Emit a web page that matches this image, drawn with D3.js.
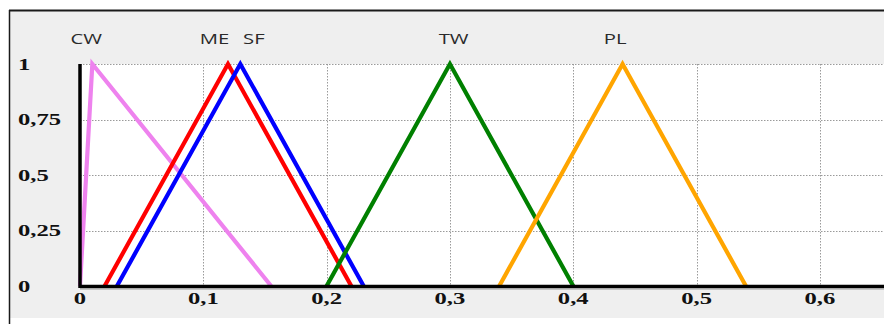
<!DOCTYPE html>
<html>
<head>
<meta charset="utf-8">
<script src="https://cdn.jsdelivr.net/npm/d3@7"></script>
<style>
  html, body { margin: 0; padding: 0; background: #ffffff; }
  svg { display: block; }
</style>
</head>
<body>
<svg id="chart" width="884" height="324"></svg>
<script>
// Membership functions: triangular sets [start, peak, end]
const setNames  = ["CW", "ME", "SF", "TW", "PL"];
const setStart  = [0.0, 0.02, 0.03, 0.2, 0.34];
const setPeak   = [0.01, 0.12, 0.13, 0.3, 0.44];
const setEnd    = [0.155, 0.22, 0.23, 0.4, 0.54];
const setColors = ["#ee82ee", "#ff0000", "#0000ff", "#008000", "#ffa500"];
// Label positions above the chart (x in data units)
const labelX    = [0.005, 0.109, 0.141, 0.303, 0.434];

const xTicks = [0, 0.1, 0.2, 0.3, 0.4, 0.5, 0.6];
const xTickLabels = ["0", "0,1", "0,2", "0,3", "0,4", "0,5", "0,6"];
const yTicks = [0, 0.25, 0.5, 0.75, 1];
const yTickLabels = ["0", "0,25", "0,5", "0,75", "1"];

const svg = d3.select("#chart");
const W = 884, H = 324;

const plot = { left: 80, top: 64, right: 884, bottom: 286 };

const x = d3.scaleLinear().domain([0, 0.652]).range([plot.left, plot.right]);
const y = d3.scaleLinear().domain([0, 1]).range([plot.bottom, plot.top]);

// Panel background and frame
svg.append("rect").attr("x", 9).attr("y", 10).attr("width", W - 9).attr("height", 308)
  .attr("fill", "#efefef");
svg.append("line").attr("x1", 9).attr("x2", W).attr("y1", 10.5).attr("y2", 10.5)
  .attr("stroke", "#1a1a1a").attr("stroke-width", 2);
svg.append("line").attr("x1", 9.5).attr("x2", 9.5).attr("y1", 10).attr("y2", H)
  .attr("stroke", "#1a1a1a").attr("stroke-width", 1.5);

// Plot area
svg.append("rect").attr("x", plot.left).attr("y", plot.top)
  .attr("width", plot.right - plot.left).attr("height", plot.bottom - plot.top)
  .attr("fill", "#ffffff");

// Grid (dotted)
const grid = svg.append("g").attr("stroke", "#9a9a9a").attr("stroke-width", 1)
  .attr("stroke-dasharray", "1.5,1.5");
grid.selectAll("line.v").data(xTicks.filter(d => d > 0)).join("line")
  .attr("class", "v")
  .attr("x1", d => Math.round(x(d)) + 0.5).attr("x2", d => Math.round(x(d)) + 0.5)
  .attr("y1", plot.top).attr("y2", plot.bottom);
grid.selectAll("line.h").data(yTicks.filter(d => d > 0)).join("line")
  .attr("class", "h")
  .attr("x1", plot.left).attr("x2", plot.right)
  .attr("y1", d => Math.round(y(d)) + 0.5).attr("y2", d => Math.round(y(d)) + 0.5);

// Membership triangles
const line = d3.line().x(d => x(d[0])).y(d => y(d[1]));
const sets = setNames.map((n, i) => ({
  name: n, color: setColors[i],
  pts: [[setStart[i], 0], [setPeak[i], 1], [setEnd[i], 0]]
}));
svg.append("g").selectAll("path").data(sets).join("path")
  .attr("d", d => line(d.pts))
  .attr("fill", "none")
  .attr("stroke", d => d.color)
  .attr("stroke-width", 4.2)
  .attr("stroke-linejoin", "miter");

// Axes lines
svg.append("line").attr("x1", plot.left).attr("x2", plot.right)
  .attr("y1", plot.bottom + 0.5).attr("y2", plot.bottom + 0.5)
  .attr("stroke", "#000").attr("stroke-width", 3.5);
svg.append("line").attr("x1", plot.left).attr("x2", plot.right)
  .attr("y1", plot.bottom + 3).attr("y2", plot.bottom + 3)
  .attr("stroke", "#9a9a9a").attr("stroke-width", 1);
svg.append("line").attr("x1", plot.left).attr("x2", plot.left)
  .attr("y1", plot.top).attr("y2", plot.bottom + 2)
  .attr("stroke", "#000").attr("stroke-width", 3.5);

// Tick labels (wide bold serif)
const tickFont = "'Liberation Serif', 'DejaVu Serif', serif";
const stretch = 1.45;
svg.append("g").selectAll("text").data(xTicks).join("text")
  .attr("transform", d => `translate(${x(d)},304) scale(${stretch},1)`)
  .attr("text-anchor", "middle")
  .attr("font-family", tickFont).attr("font-weight", "bold").attr("font-size", 17)
  .attr("fill", "#111")
  .text((d, i) => xTickLabels[i]);
svg.append("g").selectAll("text").data(yTicks).join("text")
  .attr("transform", d => `translate(18,${y(d) + 5.5}) scale(${stretch},1)`)
  .attr("font-family", tickFont).attr("font-weight", "bold").attr("font-size", 17)
  .attr("fill", "#111")
  .text((d, i) => yTickLabels[i]);

// Set names above the chart
svg.append("g").selectAll("text").data(setNames).join("text")
  .attr("transform", (d, i) => `translate(${x(labelX[i])},44) scale(1.45,1)`)
  .attr("text-anchor", "middle")
  .attr("font-family", "'Open Sans', 'DejaVu Sans', sans-serif")
  .attr("font-size", 14)
  .attr("fill", "#2a2a2a")
  .text(d => d);
</script>
</body>
</html>
